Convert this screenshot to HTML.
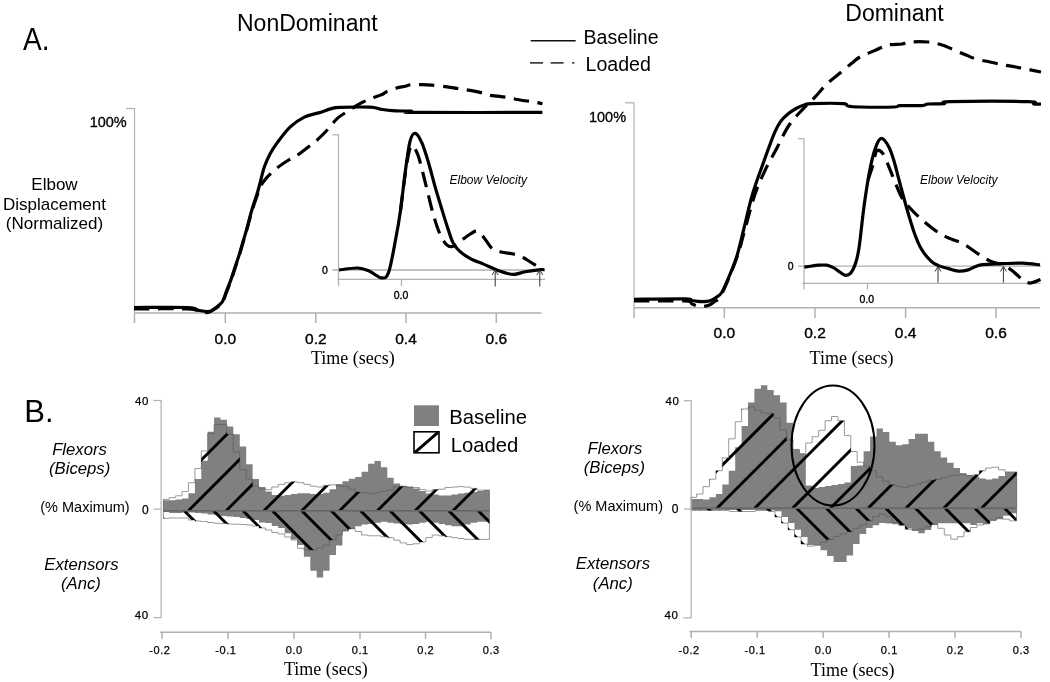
<!DOCTYPE html>
<html><head><meta charset="utf-8"><title>Figure</title>
<style>html,body{margin:0;padding:0;background:#fff;width:1050px;height:682px;overflow:hidden}svg{display:block;will-change:transform}</style>
</head><body>
<svg width="1050" height="682" viewBox="0 0 1050 682"><text x="23" y="50.1" font-size="32" text-anchor="start" font-weight="normal" font-style="normal" font-family='"Liberation Sans", sans-serif' fill="#000" textLength="26.5" lengthAdjust="spacingAndGlyphs">A.</text>
<text x="237" y="30.8" font-size="23" text-anchor="start" font-weight="normal" font-style="normal" font-family='"Liberation Sans", sans-serif' fill="#000" >NonDominant</text>
<text x="845.3" y="21" font-size="23" text-anchor="start" font-weight="normal" font-style="normal" font-family='"Liberation Sans", sans-serif' fill="#000" >Dominant</text>
<line x1="530.7" y1="40.7" x2="575.7" y2="40.7" stroke="#111" stroke-width="1.4" />
<text x="583.5" y="44.4" font-size="19.6" text-anchor="start" font-weight="normal" font-style="normal" font-family='"Liberation Sans", sans-serif' fill="#000" >Baseline</text>
<line x1="530" y1="62.9" x2="543" y2="62.9" stroke="#111" stroke-width="1.4" />
<line x1="550.7" y1="62.9" x2="563.6" y2="62.9" stroke="#111" stroke-width="1.4" />
<line x1="572.1" y1="62.9" x2="574.4" y2="62.9" stroke="#111" stroke-width="1.4" />
<text x="585.5" y="70.8" font-size="19.6" text-anchor="start" font-weight="normal" font-style="normal" font-family='"Liberation Sans", sans-serif' fill="#000" >Loaded</text>
<line x1="134.5" y1="108" x2="134.5" y2="313" stroke="#b0b0b0" stroke-width="1.2" />
<line x1="126" y1="108.5" x2="134.5" y2="108.5" stroke="#b0b0b0" stroke-width="1.2" />
<text x="126.7" y="126.7" font-size="15.3" text-anchor="end" font-weight="normal" font-style="normal" font-family='"Liberation Sans", sans-serif' fill="#000" stroke="#000" stroke-width="0.35" textLength="37" lengthAdjust="spacingAndGlyphs">100%</text>
<text x="54.5" y="190" font-size="17" text-anchor="middle" font-weight="normal" font-style="normal" font-family='"Liberation Sans", sans-serif' fill="#000" >Elbow</text>
<text x="54.5" y="209.5" font-size="17" text-anchor="middle" font-weight="normal" font-style="normal" font-family='"Liberation Sans", sans-serif' fill="#000" >Displacement</text>
<text x="54.5" y="228.5" font-size="17" text-anchor="middle" font-weight="normal" font-style="normal" font-family='"Liberation Sans", sans-serif' fill="#000" >(Normalized)</text>
<line x1="134" y1="313" x2="541.5" y2="313" stroke="#b0b0b0" stroke-width="1.5" />
<line x1="134.5" y1="313" x2="134.5" y2="323" stroke="#b0b0b0" stroke-width="1.5" />
<line x1="225.3" y1="313" x2="225.3" y2="323" stroke="#b0b0b0" stroke-width="1.5" />
<line x1="315.8" y1="313" x2="315.8" y2="323" stroke="#b0b0b0" stroke-width="1.5" />
<line x1="406" y1="313" x2="406" y2="323" stroke="#b0b0b0" stroke-width="1.5" />
<line x1="496.3" y1="313" x2="496.3" y2="323" stroke="#b0b0b0" stroke-width="1.5" />
<text x="225.3" y="343.8" font-size="15.5" text-anchor="middle" font-weight="normal" font-style="normal" font-family='"Liberation Sans", sans-serif' fill="#000" stroke="#000" stroke-width="0.4">0.0</text>
<text x="315.8" y="343.8" font-size="15.5" text-anchor="middle" font-weight="normal" font-style="normal" font-family='"Liberation Sans", sans-serif' fill="#000" stroke="#000" stroke-width="0.4">0.2</text>
<text x="406" y="343.8" font-size="15.5" text-anchor="middle" font-weight="normal" font-style="normal" font-family='"Liberation Sans", sans-serif' fill="#000" stroke="#000" stroke-width="0.4">0.4</text>
<text x="496.3" y="343.8" font-size="15.5" text-anchor="middle" font-weight="normal" font-style="normal" font-family='"Liberation Sans", sans-serif' fill="#000" stroke="#000" stroke-width="0.4">0.6</text>
<text x="311" y="363.5" font-size="18" text-anchor="start" font-weight="normal" font-style="normal" font-family='"Liberation Serif", serif' fill="#000" >Time (secs)</text>
<line x1="338.5" y1="134.5" x2="338.5" y2="279" stroke="#b0b0b0" stroke-width="1.2" />
<line x1="332.5" y1="134.8" x2="338.5" y2="134.8" stroke="#b0b0b0" stroke-width="1.2" />
<line x1="332.5" y1="270" x2="545" y2="270" stroke="#b0b0b0" stroke-width="1.3" />
<line x1="337.5" y1="279.4" x2="545" y2="279.4" stroke="#b0b0b0" stroke-width="1.3" />
<line x1="338.5" y1="279.4" x2="338.5" y2="286" stroke="#b0b0b0" stroke-width="1.2" />
<line x1="401.5" y1="279.4" x2="401.5" y2="286" stroke="#b0b0b0" stroke-width="1.2" />
<text x="325" y="274" font-size="10.5" text-anchor="middle" font-weight="normal" font-style="normal" font-family='"Liberation Sans", sans-serif' fill="#000" stroke="#000" stroke-width="0.35">0</text>
<text x="401" y="298.7" font-size="10.5" text-anchor="middle" font-weight="normal" font-style="normal" font-family='"Liberation Sans", sans-serif' fill="#000" stroke="#000" stroke-width="0.35">0.0</text>
<text x="449.5" y="184.3" font-size="12" text-anchor="start" font-weight="normal" font-style="italic" font-family='"Liberation Sans", sans-serif' fill="#000" >Elbow Velocity</text>
<path d="M134.00,307.50 C143.00,307.50 177.25,307.02 188.00,307.50 C198.75,307.98 195.05,309.72 198.50,310.40 C201.95,311.08 205.97,311.95 208.70,311.60 C211.43,311.25 212.67,309.87 214.90,308.30 C217.13,306.73 220.22,304.93 222.10,302.20 C223.98,299.47 224.67,295.83 226.20,291.90 C227.73,287.97 229.77,282.88 231.30,278.60 C232.83,274.32 234.03,270.32 235.40,266.20 C236.77,262.08 238.12,258.35 239.50,253.90 C240.88,249.45 242.32,244.28 243.70,239.50 C245.08,234.72 246.43,230.15 247.80,225.20 C249.17,220.25 250.37,215.00 251.90,209.80 C253.43,204.60 255.63,198.47 257.00,194.00 C258.37,189.53 258.88,187.48 260.10,183.00 C261.32,178.52 262.65,171.93 264.30,167.10 C265.95,162.27 267.87,158.03 270.00,154.00 C272.13,149.97 273.77,147.38 277.10,142.90 C280.43,138.42 285.47,131.40 290.00,127.10 C294.53,122.80 299.53,119.47 304.30,117.10 C309.07,114.73 314.08,114.32 318.60,112.90 C323.12,111.48 327.83,109.52 331.40,108.60 C334.97,107.68 333.57,107.63 340.00,107.40 C346.43,107.17 363.28,106.92 370.00,107.20 C376.72,107.48 376.58,108.52 380.30,109.10 C384.02,109.68 387.15,110.35 392.30,110.70 C397.45,111.05 407.48,110.92 411.20,111.20 C414.92,111.48 392.73,112.20 414.60,112.40 C436.47,112.60 521.10,112.40 542.40,112.40" fill="none" stroke="#000" stroke-width="3.2" stroke-linejoin="round" stroke-linecap="butt" />
<path d="M134.00,309.00 C143.00,309.00 176.83,308.42 188.00,309.00 C199.17,309.58 197.67,311.92 201.00,312.50 C204.33,313.08 205.68,313.08 208.00,312.50 C210.32,311.92 212.55,310.58 214.90,309.00 C217.25,307.42 220.22,305.67 222.10,303.00 C223.98,300.33 224.67,296.92 226.20,293.00 C227.73,289.08 229.77,283.83 231.30,279.50 C232.83,275.17 234.03,271.17 235.40,267.00 C236.77,262.83 238.12,259.00 239.50,254.50 C240.88,250.00 242.32,244.75 243.70,240.00 C245.08,235.25 246.43,230.83 247.80,226.00 C249.17,221.17 250.37,216.00 251.90,211.00 C253.43,206.00 255.63,200.00 257.00,196.00 C258.37,192.00 258.93,189.50 260.10,187.00 C261.27,184.50 262.58,182.88 264.00,181.00 C265.42,179.12 266.42,177.88 268.60,175.70 C270.78,173.52 273.77,170.52 277.10,167.90 C280.43,165.28 285.02,162.27 288.60,160.00 C292.18,157.73 295.03,156.68 298.60,154.30 C302.17,151.92 306.67,148.32 310.00,145.70 C313.33,143.08 315.50,141.45 318.60,138.60 C321.70,135.75 325.52,131.93 328.60,128.60 C331.68,125.27 333.77,121.58 337.10,118.60 C340.43,115.62 345.02,113.08 348.60,110.70 C352.18,108.32 355.03,106.25 358.60,104.30 C362.17,102.35 366.25,100.57 370.00,99.00 C373.75,97.43 378.23,96.17 381.10,94.90 C383.97,93.63 384.62,92.55 387.20,91.40 C389.78,90.25 393.60,88.85 396.60,88.00 C399.60,87.15 402.77,86.87 405.20,86.30 C407.63,85.73 408.48,84.88 411.20,84.60 C413.92,84.32 418.08,84.52 421.50,84.60 C424.92,84.68 427.42,84.73 431.70,85.10 C435.98,85.47 442.90,86.23 447.20,86.80 C451.50,87.37 454.37,88.02 457.50,88.50 C460.63,88.98 463.43,89.30 466.00,89.70 C468.57,90.10 470.03,90.32 472.90,90.90 C475.77,91.48 480.33,92.45 483.20,93.20 C486.07,93.95 487.67,94.90 490.10,95.40 C492.53,95.90 494.95,95.87 497.80,96.20 C500.65,96.53 504.20,96.90 507.20,97.40 C510.20,97.90 513.22,98.68 515.80,99.20 C518.38,99.72 519.83,100.08 522.70,100.50 C525.57,100.92 529.72,101.15 533.00,101.70 C536.28,102.25 540.83,103.45 542.40,103.80" fill="none" stroke="#000" stroke-width="3.2" stroke-linejoin="round" stroke-linecap="butt" stroke-dasharray="15.5,8.5" />
<path d="M339.00,270.00 C342.10,269.67 352.52,267.80 357.60,268.00 C362.68,268.20 365.53,269.55 369.50,271.20 C373.47,272.85 378.22,277.70 381.40,277.90 C384.58,278.10 386.22,278.88 388.60,272.40 C390.98,265.92 393.72,249.32 395.70,239.00 C397.68,228.68 398.92,221.60 400.50,210.50 C402.08,199.40 403.62,183.92 405.20,172.40 C406.78,160.88 408.30,147.92 410.00,141.40 C411.70,134.88 413.40,133.00 415.40,133.30 C417.40,133.60 419.80,138.25 422.00,143.20 C424.20,148.15 426.40,155.68 428.60,163.00 C430.80,170.32 433.00,179.42 435.20,187.10 C437.40,194.78 439.78,202.50 441.80,209.10 C443.82,215.70 445.48,221.20 447.30,226.70 C449.12,232.20 450.70,238.07 452.70,242.10 C454.70,246.13 456.37,248.15 459.30,250.90 C462.23,253.65 466.27,256.40 470.30,258.60 C474.33,260.80 479.47,262.38 483.50,264.10 C487.53,265.82 490.83,267.43 494.50,268.90 C498.17,270.37 502.20,271.98 505.50,272.90 C508.80,273.82 511.00,274.58 514.30,274.40 C517.60,274.22 520.90,272.60 525.30,271.80 C529.70,271.00 537.50,269.93 540.70,269.60 C543.90,269.27 543.87,269.77 544.50,269.80" fill="none" stroke="#000" stroke-width="3.2" stroke-linejoin="round" stroke-linecap="butt" />
<path d="M400.50,210.50 C401.33,204.08 404.08,181.75 405.50,172.00 C406.92,162.25 407.90,156.43 409.00,152.00 C410.10,147.57 410.67,145.03 412.10,145.40 C413.53,145.77 415.95,150.17 417.60,154.20 C419.25,158.23 420.35,163.38 422.00,169.60 C423.65,175.82 425.67,184.18 427.50,191.50 C429.33,198.82 430.98,206.53 433.00,213.50 C435.02,220.47 437.40,228.17 439.60,233.30 C441.80,238.43 444.02,242.10 446.20,244.30 C448.38,246.50 450.52,246.87 452.70,246.50 C454.88,246.13 456.73,243.93 459.30,242.10 C461.87,240.27 465.35,237.33 468.10,235.50 C470.85,233.67 473.78,231.47 475.80,231.10 C477.82,230.73 478.55,231.83 480.20,233.30 C481.85,234.77 483.68,237.33 485.70,239.90 C487.72,242.47 489.73,246.68 492.30,248.70 C494.87,250.72 497.43,251.08 501.10,252.00 C504.77,252.92 510.63,253.28 514.30,254.20 C517.97,255.12 520.17,256.03 523.10,257.50 C526.03,258.97 528.60,260.98 531.90,263.00 C535.20,265.02 541.07,268.50 542.90,269.60" fill="none" stroke="#000" stroke-width="3.2" stroke-linejoin="round" stroke-linecap="butt" stroke-dasharray="15.5,8.5" />
<line x1="495.2" y1="271" x2="495.2" y2="286.5" stroke="#333" stroke-width="1" />
<polyline points="492.2,275 495.2,270 498.2,275" fill="none" stroke="#333" stroke-width="1"/>
<line x1="539.8" y1="271" x2="539.8" y2="286.5" stroke="#333" stroke-width="1" />
<polyline points="536.8,275 539.8,270 542.8,275" fill="none" stroke="#333" stroke-width="1"/>
<line x1="634" y1="102.5" x2="634" y2="308" stroke="#b0b0b0" stroke-width="1.2" />
<line x1="625" y1="102.8" x2="634" y2="102.8" stroke="#b0b0b0" stroke-width="1.2" />
<text x="626" y="121.7" font-size="15.3" text-anchor="end" font-weight="normal" font-style="normal" font-family='"Liberation Sans", sans-serif' fill="#000" stroke="#000" stroke-width="0.35" textLength="37" lengthAdjust="spacingAndGlyphs">100%</text>
<line x1="634" y1="307.7" x2="1040" y2="307.7" stroke="#b0b0b0" stroke-width="1.5" />
<line x1="634" y1="307.7" x2="634" y2="318" stroke="#b0b0b0" stroke-width="1.5" />
<line x1="724.3" y1="307.7" x2="724.3" y2="318" stroke="#b0b0b0" stroke-width="1.5" />
<line x1="815" y1="307.7" x2="815" y2="318" stroke="#b0b0b0" stroke-width="1.5" />
<line x1="905.6" y1="307.7" x2="905.6" y2="318" stroke="#b0b0b0" stroke-width="1.5" />
<line x1="996" y1="307.7" x2="996" y2="318" stroke="#b0b0b0" stroke-width="1.5" />
<text x="724.3" y="337.7" font-size="15.5" text-anchor="middle" font-weight="normal" font-style="normal" font-family='"Liberation Sans", sans-serif' fill="#000" stroke="#000" stroke-width="0.4">0.0</text>
<text x="815" y="337.7" font-size="15.5" text-anchor="middle" font-weight="normal" font-style="normal" font-family='"Liberation Sans", sans-serif' fill="#000" stroke="#000" stroke-width="0.4">0.2</text>
<text x="905.6" y="337.7" font-size="15.5" text-anchor="middle" font-weight="normal" font-style="normal" font-family='"Liberation Sans", sans-serif' fill="#000" stroke="#000" stroke-width="0.4">0.4</text>
<text x="996" y="337.7" font-size="15.5" text-anchor="middle" font-weight="normal" font-style="normal" font-family='"Liberation Sans", sans-serif' fill="#000" stroke="#000" stroke-width="0.4">0.6</text>
<text x="809.6" y="363.7" font-size="18" text-anchor="start" font-weight="normal" font-style="normal" font-family='"Liberation Serif", serif' fill="#000" >Time (secs)</text>
<line x1="804" y1="138.5" x2="804" y2="283.2" stroke="#b0b0b0" stroke-width="1.2" />
<line x1="798" y1="138.7" x2="804" y2="138.7" stroke="#b0b0b0" stroke-width="1.2" />
<line x1="798" y1="266.2" x2="1041" y2="266.2" stroke="#b0b0b0" stroke-width="1.3" />
<line x1="802.4" y1="283.4" x2="1040.5" y2="283.4" stroke="#b0b0b0" stroke-width="1.3" />
<line x1="804.1" y1="283.2" x2="804.1" y2="289.5" stroke="#b0b0b0" stroke-width="1.2" />
<line x1="867.5" y1="283.2" x2="867.5" y2="289.5" stroke="#b0b0b0" stroke-width="1.2" />
<text x="790.6" y="269.7" font-size="10.5" text-anchor="middle" font-weight="normal" font-style="normal" font-family='"Liberation Sans", sans-serif' fill="#000" stroke="#000" stroke-width="0.35">0</text>
<text x="866.7" y="303" font-size="10.5" text-anchor="middle" font-weight="normal" font-style="normal" font-family='"Liberation Sans", sans-serif' fill="#000" stroke="#000" stroke-width="0.35">0.0</text>
<text x="920" y="184.3" font-size="12" text-anchor="start" font-weight="normal" font-style="italic" font-family='"Liberation Sans", sans-serif' fill="#000" >Elbow Velocity</text>
<path d="M634.00,299.30 C642.52,299.23 675.62,298.73 685.10,298.90 C694.58,299.07 688.80,299.88 690.90,300.30 C693.00,300.72 695.03,301.22 697.70,301.40 C700.37,301.58 704.62,301.58 706.90,301.40 C709.18,301.22 709.88,300.95 711.40,300.30 C712.92,299.65 714.28,298.80 716.00,297.50 C717.72,296.20 719.70,295.58 721.70,292.50 C723.70,289.42 725.50,284.97 728.00,279.00 C730.50,273.03 734.08,264.97 736.70,256.70 C739.32,248.43 741.08,239.77 743.70,229.40 C746.32,219.03 749.08,205.72 752.40,194.50 C755.72,183.28 759.87,172.48 763.60,162.10 C767.33,151.72 771.90,139.05 774.80,132.20 C777.70,125.35 778.72,124.10 781.00,121.00 C783.28,117.90 786.00,115.68 788.50,113.60 C791.00,111.52 793.30,109.97 796.00,108.50 C798.70,107.03 802.00,105.62 804.70,104.80 C807.40,103.98 805.77,103.80 812.20,103.60 C818.63,103.40 837.33,103.20 843.30,103.60 C849.27,104.00 845.22,105.43 848.00,106.00 C850.78,106.57 852.33,106.83 860.00,107.00 C867.67,107.17 887.33,107.23 894.00,107.00 C900.67,106.77 895.33,105.83 900.00,105.60 C904.67,105.37 917.33,105.87 922.00,105.60 C926.67,105.33 924.33,104.33 928.00,104.00 C931.67,103.67 940.33,104.00 944.00,103.60 C947.67,103.20 936.00,101.93 950.00,101.60 C964.00,101.27 1014.00,101.20 1028.00,101.60 C1042.00,102.00 1031.83,103.60 1034.00,104.00 C1036.17,104.40 1039.83,104.00 1041.00,104.00" fill="none" stroke="#000" stroke-width="3.2" stroke-linejoin="round" stroke-linecap="butt" />
<path d="M634.00,301.00 C642.50,301.00 675.33,300.50 685.00,301.00 C694.67,301.50 689.50,303.07 692.00,304.00 C694.50,304.93 697.33,306.35 700.00,306.60 C702.67,306.85 705.67,306.27 708.00,305.50 C710.33,304.73 711.72,303.92 714.00,302.00 C716.28,300.08 717.92,301.33 721.70,294.00 C725.48,286.67 732.83,268.77 736.70,258.00 C740.57,247.23 741.87,239.98 744.90,229.40 C747.93,218.82 751.58,204.25 754.90,194.50 C758.22,184.75 761.07,178.78 764.80,170.90 C768.53,163.02 773.35,154.68 777.30,147.20 C781.25,139.72 784.35,132.23 788.50,126.00 C792.65,119.77 797.83,114.57 802.20,109.80 C806.57,105.03 810.55,101.75 814.70,97.40 C818.85,93.05 822.88,87.77 827.10,83.70 C831.32,79.63 835.85,76.45 840.00,73.00 C844.15,69.55 848.67,65.67 852.00,63.00 C855.33,60.33 856.00,59.17 860.00,57.00 C864.00,54.83 871.33,52.00 876.00,50.00 C880.67,48.00 883.67,46.00 888.00,45.00 C892.33,44.00 898.33,44.50 902.00,44.00 C905.67,43.50 905.67,42.33 910.00,42.00 C914.33,41.67 922.67,41.50 928.00,42.00 C933.33,42.50 938.00,43.83 942.00,45.00 C946.00,46.17 948.00,47.33 952.00,49.00 C956.00,50.67 962.00,53.33 966.00,55.00 C970.00,56.67 972.00,57.83 976.00,59.00 C980.00,60.17 985.33,61.00 990.00,62.00 C994.67,63.00 999.67,64.17 1004.00,65.00 C1008.33,65.83 1012.33,66.33 1016.00,67.00 C1019.67,67.67 1021.83,68.17 1026.00,69.00 C1030.17,69.83 1038.50,71.50 1041.00,72.00" fill="none" stroke="#000" stroke-width="3.2" stroke-linejoin="round" stroke-linecap="butt" stroke-dasharray="15.5,8.5" />
<path d="M804.30,267.10 C805.58,266.92 809.70,266.32 812.00,266.00 C814.30,265.68 815.65,265.33 818.10,265.20 C820.55,265.07 824.17,264.80 826.70,265.20 C829.23,265.60 831.25,266.55 833.30,267.60 C835.35,268.65 837.08,270.23 839.00,271.50 C840.92,272.77 842.88,274.90 844.80,275.20 C846.72,275.50 848.77,275.12 850.50,273.30 C852.23,271.48 853.78,268.52 855.20,264.30 C856.62,260.08 857.48,258.00 859.00,248.00 C860.52,238.00 862.40,217.78 864.30,204.30 C866.20,190.82 868.35,177.00 870.40,167.10 C872.45,157.20 874.65,149.67 876.60,144.90 C878.55,140.13 880.03,138.10 882.10,138.50 C884.17,138.90 887.02,143.55 889.00,147.30 C890.98,151.05 892.35,155.63 894.00,161.00 C895.65,166.37 896.85,171.88 898.90,179.50 C900.95,187.12 903.82,198.03 906.30,206.70 C908.78,215.37 911.32,224.48 913.80,231.50 C916.28,238.52 918.32,243.85 921.20,248.80 C924.08,253.75 928.22,258.40 931.10,261.20 C933.98,264.00 935.62,264.37 938.50,265.60 C941.38,266.83 945.10,267.68 948.40,268.60 C951.70,269.52 955.00,270.88 958.30,271.10 C961.60,271.32 964.48,270.93 968.20,269.90 C971.92,268.87 974.82,265.93 980.60,264.90 C986.38,263.87 995.88,263.98 1002.90,263.70 C1009.92,263.42 1016.52,263.00 1022.70,263.20 C1028.88,263.40 1037.12,264.62 1040.00,264.90" fill="none" stroke="#000" stroke-width="3.2" stroke-linejoin="round" stroke-linecap="butt" />
<path d="M868.00,180.00 C868.82,177.50 871.47,169.83 872.90,165.00 C874.33,160.17 874.95,152.92 876.60,151.00 C878.25,149.08 880.73,150.82 882.80,153.50 C884.87,156.18 887.13,162.77 889.00,167.10 C890.87,171.43 891.93,174.55 894.00,179.50 C896.07,184.45 898.93,192.27 901.40,196.80 C903.87,201.33 905.50,202.98 908.80,206.70 C912.10,210.42 916.25,214.77 921.20,219.10 C926.15,223.43 933.55,229.40 938.50,232.70 C943.45,236.00 946.77,237.03 950.90,238.90 C955.03,240.77 958.77,241.42 963.30,243.90 C967.83,246.38 973.57,250.92 978.10,253.80 C982.63,256.68 986.37,259.35 990.50,261.20 C994.63,263.05 999.32,263.35 1002.90,264.90 C1006.48,266.45 1009.48,268.68 1012.00,270.50 C1014.52,272.32 1016.00,274.05 1018.00,275.80 C1020.00,277.55 1021.83,279.80 1024.00,281.00 C1026.17,282.20 1028.25,283.25 1031.00,283.00 C1033.75,282.75 1038.92,280.08 1040.50,279.50" fill="none" stroke="#000" stroke-width="3.2" stroke-linejoin="round" stroke-linecap="butt" stroke-dasharray="15.5,8.5" />
<line x1="938" y1="267" x2="938" y2="282.5" stroke="#333" stroke-width="1" />
<polyline points="935,271.5 938,266.5 941,271.5" fill="none" stroke="#333" stroke-width="1"/>
<line x1="1003.4" y1="267" x2="1003.4" y2="282.5" stroke="#333" stroke-width="1" />
<polyline points="1000.4,271.5 1003.4,266.5 1006.4,271.5" fill="none" stroke="#333" stroke-width="1"/>
<text x="24.3" y="422.3" font-size="31" text-anchor="start" font-weight="normal" font-style="normal" font-family='"Liberation Sans", sans-serif' fill="#000" >B.</text>
<rect x="414" y="405.3" width="25" height="20.7" fill="#808080"/>
<rect x="414" y="431.8" width="25" height="21" fill="#fff" stroke="#000" stroke-width="1.6"/>
<line x1="415" y1="452.3" x2="438" y2="432.3" stroke="#000" stroke-width="3" />
<text x="449.3" y="423.6" font-size="20.3" text-anchor="start" font-weight="normal" font-style="normal" font-family='"Liberation Sans", sans-serif' fill="#000" >Baseline</text>
<text x="450.7" y="451.6" font-size="20.3" text-anchor="start" font-weight="normal" font-style="normal" font-family='"Liberation Sans", sans-serif' fill="#000" >Loaded</text>
<clipPath id="Llf"><path d="M163.4,510.7 L163.4,499.4 L169.2,499.4 L169.2,497.6 L175.6,497.6 L175.6,495.8 L182.0,495.8 L182.0,491.5 L188.4,491.5 L188.4,482.7 L194.9,482.7 L194.9,468.6 L201.3,468.6 L201.3,451.0 L207.7,451.0 L207.7,433.4 L214.1,433.4 L214.1,424.6 L220.5,424.6 L220.5,424.6 L226.9,424.6 L226.9,434.3 L233.3,434.3 L233.3,451.9 L239.8,451.9 L239.8,469.5 L246.2,469.5 L246.2,479.1 L252.6,479.1 L252.6,486.2 L259.0,486.2 L259.0,488.8 L265.4,488.8 L265.4,489.7 L271.8,489.7 L271.8,487.0 L278.2,487.0 L278.2,484.4 L284.7,484.4 L284.7,482.7 L291.1,482.7 L291.1,481.8 L297.5,481.8 L297.5,482.7 L303.9,482.7 L303.9,484.4 L310.3,484.4 L310.3,486.2 L316.7,486.2 L316.7,487.0 L323.2,487.0 L323.2,485.4 L329.6,485.4 L329.6,484.8 L336.0,484.8 L336.0,486.0 L342.4,486.0 L342.4,486.6 L348.8,486.6 L348.8,489.2 L355.2,489.2 L355.2,491.9 L361.6,491.9 L361.6,492.8 L368.1,492.8 L368.1,493.6 L374.5,493.6 L374.5,492.8 L380.9,492.8 L380.9,491.0 L387.3,491.0 L387.3,490.1 L393.7,490.1 L393.7,486.6 L400.1,486.6 L400.1,486.6 L406.6,486.6 L406.6,487.5 L413.0,487.5 L413.0,487.5 L419.4,487.5 L419.4,489.6 L425.8,489.6 L425.8,491.0 L432.2,491.0 L432.2,489.6 L438.6,489.6 L438.6,489.2 L445.0,489.2 L445.0,487.5 L451.5,487.5 L451.5,487.1 L457.9,487.1 L457.9,486.6 L464.3,486.6 L464.3,487.1 L470.7,487.1 L470.7,488.4 L477.1,488.4 L477.1,490.1 L483.5,490.1 L483.5,490.1 L489.4,490.1 L489.4,510.7 Z"/></clipPath>
<clipPath id="Lle"><path d="M163.4,510.7 L163.4,518.3 L169.2,518.3 L169.2,518.0 L175.6,518.0 L175.6,518.0 L182.0,518.0 L182.0,518.0 L188.4,518.0 L188.4,520.0 L194.9,520.0 L194.9,521.0 L201.3,521.0 L201.3,521.5 L207.7,521.5 L207.7,522.5 L214.1,522.5 L214.1,523.3 L220.5,523.3 L220.5,523.5 L226.9,523.5 L226.9,524.0 L233.3,524.0 L233.3,524.2 L239.8,524.2 L239.8,524.5 L246.2,524.5 L246.2,525.0 L252.6,525.0 L252.6,526.0 L259.0,526.0 L259.0,528.0 L265.4,528.0 L265.4,530.0 L271.8,530.0 L271.8,532.5 L278.2,532.5 L278.2,534.0 L284.7,534.0 L284.7,537.0 L291.1,537.0 L291.1,540.0 L297.5,540.0 L297.5,548.3 L303.9,548.3 L303.9,550.0 L310.3,550.0 L310.3,550.0 L316.7,550.0 L316.7,548.0 L323.2,548.0 L323.2,545.0 L329.6,545.0 L329.6,540.0 L336.0,540.0 L336.0,535.0 L342.4,535.0 L342.4,530.0 L348.8,530.0 L348.8,528.8 L355.2,528.8 L355.2,531.5 L361.6,531.5 L361.6,535.0 L368.1,535.0 L368.1,535.8 L374.5,535.8 L374.5,535.8 L380.9,535.8 L380.9,536.7 L387.3,536.7 L387.3,537.6 L393.7,537.6 L393.7,540.2 L400.1,540.2 L400.1,542.9 L406.6,542.9 L406.6,544.6 L413.0,544.6 L413.0,543.8 L419.4,543.8 L419.4,542.0 L425.8,542.0 L425.8,537.6 L432.2,537.6 L432.2,535.0 L438.6,535.0 L438.6,535.8 L445.0,535.8 L445.0,536.7 L451.5,536.7 L451.5,537.6 L457.9,537.6 L457.9,538.5 L464.3,538.5 L464.3,539.4 L470.7,539.4 L470.7,539.4 L477.1,539.4 L477.1,539.4 L483.5,539.4 L483.5,539.4 L489.4,539.4 L489.4,510.7 Z"/></clipPath>
<path d="M163.4,510.7 L163.4,499.4 L169.2,499.4 L169.2,497.6 L175.6,497.6 L175.6,495.8 L182.0,495.8 L182.0,491.5 L188.4,491.5 L188.4,482.7 L194.9,482.7 L194.9,468.6 L201.3,468.6 L201.3,451.0 L207.7,451.0 L207.7,433.4 L214.1,433.4 L214.1,424.6 L220.5,424.6 L220.5,424.6 L226.9,424.6 L226.9,434.3 L233.3,434.3 L233.3,451.9 L239.8,451.9 L239.8,469.5 L246.2,469.5 L246.2,479.1 L252.6,479.1 L252.6,486.2 L259.0,486.2 L259.0,488.8 L265.4,488.8 L265.4,489.7 L271.8,489.7 L271.8,487.0 L278.2,487.0 L278.2,484.4 L284.7,484.4 L284.7,482.7 L291.1,482.7 L291.1,481.8 L297.5,481.8 L297.5,482.7 L303.9,482.7 L303.9,484.4 L310.3,484.4 L310.3,486.2 L316.7,486.2 L316.7,487.0 L323.2,487.0 L323.2,485.4 L329.6,485.4 L329.6,484.8 L336.0,484.8 L336.0,486.0 L342.4,486.0 L342.4,486.6 L348.8,486.6 L348.8,489.2 L355.2,489.2 L355.2,491.9 L361.6,491.9 L361.6,492.8 L368.1,492.8 L368.1,493.6 L374.5,493.6 L374.5,492.8 L380.9,492.8 L380.9,491.0 L387.3,491.0 L387.3,490.1 L393.7,490.1 L393.7,486.6 L400.1,486.6 L400.1,486.6 L406.6,486.6 L406.6,487.5 L413.0,487.5 L413.0,487.5 L419.4,487.5 L419.4,489.6 L425.8,489.6 L425.8,491.0 L432.2,491.0 L432.2,489.6 L438.6,489.6 L438.6,489.2 L445.0,489.2 L445.0,487.5 L451.5,487.5 L451.5,487.1 L457.9,487.1 L457.9,486.6 L464.3,486.6 L464.3,487.1 L470.7,487.1 L470.7,488.4 L477.1,488.4 L477.1,490.1 L483.5,490.1 L483.5,490.1 L489.4,490.1 L489.4,510.7 Z" fill="#fff" stroke="#999" stroke-width="1"/>
<path d="M163.4,510.7 L163.4,518.3 L169.2,518.3 L169.2,518.0 L175.6,518.0 L175.6,518.0 L182.0,518.0 L182.0,518.0 L188.4,518.0 L188.4,520.0 L194.9,520.0 L194.9,521.0 L201.3,521.0 L201.3,521.5 L207.7,521.5 L207.7,522.5 L214.1,522.5 L214.1,523.3 L220.5,523.3 L220.5,523.5 L226.9,523.5 L226.9,524.0 L233.3,524.0 L233.3,524.2 L239.8,524.2 L239.8,524.5 L246.2,524.5 L246.2,525.0 L252.6,525.0 L252.6,526.0 L259.0,526.0 L259.0,528.0 L265.4,528.0 L265.4,530.0 L271.8,530.0 L271.8,532.5 L278.2,532.5 L278.2,534.0 L284.7,534.0 L284.7,537.0 L291.1,537.0 L291.1,540.0 L297.5,540.0 L297.5,548.3 L303.9,548.3 L303.9,550.0 L310.3,550.0 L310.3,550.0 L316.7,550.0 L316.7,548.0 L323.2,548.0 L323.2,545.0 L329.6,545.0 L329.6,540.0 L336.0,540.0 L336.0,535.0 L342.4,535.0 L342.4,530.0 L348.8,530.0 L348.8,528.8 L355.2,528.8 L355.2,531.5 L361.6,531.5 L361.6,535.0 L368.1,535.0 L368.1,535.8 L374.5,535.8 L374.5,535.8 L380.9,535.8 L380.9,536.7 L387.3,536.7 L387.3,537.6 L393.7,537.6 L393.7,540.2 L400.1,540.2 L400.1,542.9 L406.6,542.9 L406.6,544.6 L413.0,544.6 L413.0,543.8 L419.4,543.8 L419.4,542.0 L425.8,542.0 L425.8,537.6 L432.2,537.6 L432.2,535.0 L438.6,535.0 L438.6,535.8 L445.0,535.8 L445.0,536.7 L451.5,536.7 L451.5,537.6 L457.9,537.6 L457.9,538.5 L464.3,538.5 L464.3,539.4 L470.7,539.4 L470.7,539.4 L477.1,539.4 L477.1,539.4 L483.5,539.4 L483.5,539.4 L489.4,539.4 L489.4,510.7 Z" fill="#fff" stroke="#999" stroke-width="1"/>
<path d="M163.4,510.7 L163.4,500.2 L169.2,500.2 L169.2,500.2 L175.6,500.2 L175.6,499.4 L182.0,499.4 L182.0,498.5 L188.4,498.5 L188.4,493.2 L194.9,493.2 L194.9,479.1 L201.3,479.1 L201.3,460.7 L207.7,460.7 L207.7,431.7 L214.1,431.7 L214.1,417.6 L220.5,417.6 L220.5,419.7 L226.9,419.7 L226.9,426.4 L233.3,426.4 L233.3,434.3 L239.8,434.3 L239.8,446.6 L246.2,446.6 L246.2,464.2 L252.6,464.2 L252.6,479.1 L259.0,479.1 L259.0,487.1 L265.4,487.1 L265.4,491.5 L271.8,491.5 L271.8,495.0 L278.2,495.0 L278.2,495.8 L284.7,495.8 L284.7,495.0 L291.1,495.0 L291.1,494.1 L297.5,494.1 L297.5,493.2 L303.9,493.2 L303.9,493.2 L310.3,493.2 L310.3,494.1 L316.7,494.1 L316.7,494.1 L323.2,494.1 L323.2,492.8 L329.6,492.8 L329.6,489.2 L336.0,489.2 L336.0,484.0 L342.4,484.0 L342.4,481.3 L348.8,481.3 L348.8,478.7 L355.2,478.7 L355.2,476.9 L361.6,476.9 L361.6,471.7 L368.1,471.7 L368.1,463.7 L374.5,463.7 L374.5,461.1 L380.9,461.1 L380.9,467.3 L387.3,467.3 L387.3,477.8 L393.7,477.8 L393.7,483.6 L400.1,483.6 L400.1,485.7 L406.6,485.7 L406.6,486.6 L413.0,486.6 L413.0,488.4 L419.4,488.4 L419.4,491.0 L425.8,491.0 L425.8,493.6 L432.2,493.6 L432.2,494.5 L438.6,494.5 L438.6,495.4 L445.0,495.4 L445.0,495.4 L451.5,495.4 L451.5,494.5 L457.9,494.5 L457.9,493.6 L464.3,493.6 L464.3,492.8 L470.7,492.8 L470.7,491.9 L477.1,491.9 L477.1,491.0 L483.5,491.0 L483.5,490.1 L489.4,490.1 L489.4,510.7 Z" fill="#808080"/>
<path d="M163.4,510.7 L163.4,512.0 L169.2,512.0 L169.2,513.0 L175.6,513.0 L175.6,513.0 L182.0,513.0 L182.0,512.5 L188.4,512.5 L188.4,512.5 L194.9,512.5 L194.9,513.0 L201.3,513.0 L201.3,513.5 L207.7,513.5 L207.7,514.5 L214.1,514.5 L214.1,515.0 L220.5,515.0 L220.5,516.0 L226.9,516.0 L226.9,516.5 L233.3,516.5 L233.3,517.0 L239.8,517.0 L239.8,518.0 L246.2,518.0 L246.2,519.0 L252.6,519.0 L252.6,520.0 L259.0,520.0 L259.0,522.5 L265.4,522.5 L265.4,523.0 L271.8,523.0 L271.8,526.0 L278.2,526.0 L278.2,528.0 L284.7,528.0 L284.7,533.3 L291.1,533.3 L291.1,539.2 L297.5,539.2 L297.5,545.0 L303.9,545.0 L303.9,556.7 L310.3,556.7 L310.3,570.8 L316.7,570.8 L316.7,577.5 L323.2,577.5 L323.2,570.8 L329.6,570.8 L329.6,555.0 L336.0,555.0 L336.0,545.5 L342.4,545.5 L342.4,531.5 L348.8,531.5 L348.8,528.8 L355.2,528.8 L355.2,526.2 L361.6,526.2 L361.6,524.4 L368.1,524.4 L368.1,524.0 L374.5,524.0 L374.5,522.7 L380.9,522.7 L380.9,521.8 L387.3,521.8 L387.3,522.7 L393.7,522.7 L393.7,523.5 L400.1,523.5 L400.1,524.0 L406.6,524.0 L406.6,524.4 L413.0,524.4 L413.0,524.0 L419.4,524.0 L419.4,522.7 L425.8,522.7 L425.8,521.8 L432.2,521.8 L432.2,522.7 L438.6,522.7 L438.6,524.0 L445.0,524.0 L445.0,525.3 L451.5,525.3 L451.5,526.2 L457.9,526.2 L457.9,526.2 L464.3,526.2 L464.3,524.4 L470.7,524.4 L470.7,522.7 L477.1,522.7 L477.1,521.8 L483.5,521.8 L483.5,521.8 L489.4,521.8 L489.4,510.7 Z" fill="#808080"/>
<clipPath id="Lgf"><path d="M163.4,510.7 L163.4,500.2 L169.2,500.2 L169.2,500.2 L175.6,500.2 L175.6,499.4 L182.0,499.4 L182.0,498.5 L188.4,498.5 L188.4,493.2 L194.9,493.2 L194.9,479.1 L201.3,479.1 L201.3,460.7 L207.7,460.7 L207.7,431.7 L214.1,431.7 L214.1,417.6 L220.5,417.6 L220.5,419.7 L226.9,419.7 L226.9,426.4 L233.3,426.4 L233.3,434.3 L239.8,434.3 L239.8,446.6 L246.2,446.6 L246.2,464.2 L252.6,464.2 L252.6,479.1 L259.0,479.1 L259.0,487.1 L265.4,487.1 L265.4,491.5 L271.8,491.5 L271.8,495.0 L278.2,495.0 L278.2,495.8 L284.7,495.8 L284.7,495.0 L291.1,495.0 L291.1,494.1 L297.5,494.1 L297.5,493.2 L303.9,493.2 L303.9,493.2 L310.3,493.2 L310.3,494.1 L316.7,494.1 L316.7,494.1 L323.2,494.1 L323.2,492.8 L329.6,492.8 L329.6,489.2 L336.0,489.2 L336.0,484.0 L342.4,484.0 L342.4,481.3 L348.8,481.3 L348.8,478.7 L355.2,478.7 L355.2,476.9 L361.6,476.9 L361.6,471.7 L368.1,471.7 L368.1,463.7 L374.5,463.7 L374.5,461.1 L380.9,461.1 L380.9,467.3 L387.3,467.3 L387.3,477.8 L393.7,477.8 L393.7,483.6 L400.1,483.6 L400.1,485.7 L406.6,485.7 L406.6,486.6 L413.0,486.6 L413.0,488.4 L419.4,488.4 L419.4,491.0 L425.8,491.0 L425.8,493.6 L432.2,493.6 L432.2,494.5 L438.6,494.5 L438.6,495.4 L445.0,495.4 L445.0,495.4 L451.5,495.4 L451.5,494.5 L457.9,494.5 L457.9,493.6 L464.3,493.6 L464.3,492.8 L470.7,492.8 L470.7,491.9 L477.1,491.9 L477.1,491.0 L483.5,491.0 L483.5,490.1 L489.4,490.1 L489.4,510.7 Z"/></clipPath>
<clipPath id="Lge"><path d="M163.4,510.7 L163.4,512.0 L169.2,512.0 L169.2,513.0 L175.6,513.0 L175.6,513.0 L182.0,513.0 L182.0,512.5 L188.4,512.5 L188.4,512.5 L194.9,512.5 L194.9,513.0 L201.3,513.0 L201.3,513.5 L207.7,513.5 L207.7,514.5 L214.1,514.5 L214.1,515.0 L220.5,515.0 L220.5,516.0 L226.9,516.0 L226.9,516.5 L233.3,516.5 L233.3,517.0 L239.8,517.0 L239.8,518.0 L246.2,518.0 L246.2,519.0 L252.6,519.0 L252.6,520.0 L259.0,520.0 L259.0,522.5 L265.4,522.5 L265.4,523.0 L271.8,523.0 L271.8,526.0 L278.2,526.0 L278.2,528.0 L284.7,528.0 L284.7,533.3 L291.1,533.3 L291.1,539.2 L297.5,539.2 L297.5,545.0 L303.9,545.0 L303.9,556.7 L310.3,556.7 L310.3,570.8 L316.7,570.8 L316.7,577.5 L323.2,577.5 L323.2,570.8 L329.6,570.8 L329.6,555.0 L336.0,555.0 L336.0,545.5 L342.4,545.5 L342.4,531.5 L348.8,531.5 L348.8,528.8 L355.2,528.8 L355.2,526.2 L361.6,526.2 L361.6,524.4 L368.1,524.4 L368.1,524.0 L374.5,524.0 L374.5,522.7 L380.9,522.7 L380.9,521.8 L387.3,521.8 L387.3,522.7 L393.7,522.7 L393.7,523.5 L400.1,523.5 L400.1,524.0 L406.6,524.0 L406.6,524.4 L413.0,524.4 L413.0,524.0 L419.4,524.0 L419.4,522.7 L425.8,522.7 L425.8,521.8 L432.2,521.8 L432.2,522.7 L438.6,522.7 L438.6,524.0 L445.0,524.0 L445.0,525.3 L451.5,525.3 L451.5,526.2 L457.9,526.2 L457.9,526.2 L464.3,526.2 L464.3,524.4 L470.7,524.4 L470.7,522.7 L477.1,522.7 L477.1,521.8 L483.5,521.8 L483.5,521.8 L489.4,521.8 L489.4,510.7 Z"/></clipPath>
<path d="M163.4,510.7 L163.4,499.4 L169.2,499.4 L169.2,497.6 L175.6,497.6 L175.6,495.8 L182.0,495.8 L182.0,491.5 L188.4,491.5 L188.4,482.7 L194.9,482.7 L194.9,468.6 L201.3,468.6 L201.3,451.0 L207.7,451.0 L207.7,433.4 L214.1,433.4 L214.1,424.6 L220.5,424.6 L220.5,424.6 L226.9,424.6 L226.9,434.3 L233.3,434.3 L233.3,451.9 L239.8,451.9 L239.8,469.5 L246.2,469.5 L246.2,479.1 L252.6,479.1 L252.6,486.2 L259.0,486.2 L259.0,488.8 L265.4,488.8 L265.4,489.7 L271.8,489.7 L271.8,487.0 L278.2,487.0 L278.2,484.4 L284.7,484.4 L284.7,482.7 L291.1,482.7 L291.1,481.8 L297.5,481.8 L297.5,482.7 L303.9,482.7 L303.9,484.4 L310.3,484.4 L310.3,486.2 L316.7,486.2 L316.7,487.0 L323.2,487.0 L323.2,485.4 L329.6,485.4 L329.6,484.8 L336.0,484.8 L336.0,486.0 L342.4,486.0 L342.4,486.6 L348.8,486.6 L348.8,489.2 L355.2,489.2 L355.2,491.9 L361.6,491.9 L361.6,492.8 L368.1,492.8 L368.1,493.6 L374.5,493.6 L374.5,492.8 L380.9,492.8 L380.9,491.0 L387.3,491.0 L387.3,490.1 L393.7,490.1 L393.7,486.6 L400.1,486.6 L400.1,486.6 L406.6,486.6 L406.6,487.5 L413.0,487.5 L413.0,487.5 L419.4,487.5 L419.4,489.6 L425.8,489.6 L425.8,491.0 L432.2,491.0 L432.2,489.6 L438.6,489.6 L438.6,489.2 L445.0,489.2 L445.0,487.5 L451.5,487.5 L451.5,487.1 L457.9,487.1 L457.9,486.6 L464.3,486.6 L464.3,487.1 L470.7,487.1 L470.7,488.4 L477.1,488.4 L477.1,490.1 L483.5,490.1 L483.5,490.1 L489.4,490.1 L489.4,510.7 Z" fill="none" stroke="#666" stroke-width="1" clip-path="url(#Lgf)"/>
<path d="M163.4,510.7 L163.4,518.3 L169.2,518.3 L169.2,518.0 L175.6,518.0 L175.6,518.0 L182.0,518.0 L182.0,518.0 L188.4,518.0 L188.4,520.0 L194.9,520.0 L194.9,521.0 L201.3,521.0 L201.3,521.5 L207.7,521.5 L207.7,522.5 L214.1,522.5 L214.1,523.3 L220.5,523.3 L220.5,523.5 L226.9,523.5 L226.9,524.0 L233.3,524.0 L233.3,524.2 L239.8,524.2 L239.8,524.5 L246.2,524.5 L246.2,525.0 L252.6,525.0 L252.6,526.0 L259.0,526.0 L259.0,528.0 L265.4,528.0 L265.4,530.0 L271.8,530.0 L271.8,532.5 L278.2,532.5 L278.2,534.0 L284.7,534.0 L284.7,537.0 L291.1,537.0 L291.1,540.0 L297.5,540.0 L297.5,548.3 L303.9,548.3 L303.9,550.0 L310.3,550.0 L310.3,550.0 L316.7,550.0 L316.7,548.0 L323.2,548.0 L323.2,545.0 L329.6,545.0 L329.6,540.0 L336.0,540.0 L336.0,535.0 L342.4,535.0 L342.4,530.0 L348.8,530.0 L348.8,528.8 L355.2,528.8 L355.2,531.5 L361.6,531.5 L361.6,535.0 L368.1,535.0 L368.1,535.8 L374.5,535.8 L374.5,535.8 L380.9,535.8 L380.9,536.7 L387.3,536.7 L387.3,537.6 L393.7,537.6 L393.7,540.2 L400.1,540.2 L400.1,542.9 L406.6,542.9 L406.6,544.6 L413.0,544.6 L413.0,543.8 L419.4,543.8 L419.4,542.0 L425.8,542.0 L425.8,537.6 L432.2,537.6 L432.2,535.0 L438.6,535.0 L438.6,535.8 L445.0,535.8 L445.0,536.7 L451.5,536.7 L451.5,537.6 L457.9,537.6 L457.9,538.5 L464.3,538.5 L464.3,539.4 L470.7,539.4 L470.7,539.4 L477.1,539.4 L477.1,539.4 L483.5,539.4 L483.5,539.4 L489.4,539.4 L489.4,510.7 Z" fill="none" stroke="#666" stroke-width="1" clip-path="url(#Lge)"/>
<g clip-path="url(#Llf)"><line x1="-0.6" y1="510.7" x2="149.4" y2="360.7" stroke="#000" stroke-width="2.9"/><line x1="37.2" y1="510.7" x2="187.2" y2="360.7" stroke="#000" stroke-width="2.9"/><line x1="75.0" y1="510.7" x2="225.0" y2="360.7" stroke="#000" stroke-width="2.9"/><line x1="112.8" y1="510.7" x2="262.8" y2="360.7" stroke="#000" stroke-width="2.9"/><line x1="150.6" y1="510.7" x2="300.6" y2="360.7" stroke="#000" stroke-width="2.9"/><line x1="188.4" y1="510.7" x2="338.4" y2="360.7" stroke="#000" stroke-width="2.9"/><line x1="226.2" y1="510.7" x2="376.2" y2="360.7" stroke="#000" stroke-width="2.9"/><line x1="264.0" y1="510.7" x2="414.0" y2="360.7" stroke="#000" stroke-width="2.9"/><line x1="301.8" y1="510.7" x2="451.8" y2="360.7" stroke="#000" stroke-width="2.9"/><line x1="339.6" y1="510.7" x2="489.6" y2="360.7" stroke="#000" stroke-width="2.9"/><line x1="377.4" y1="510.7" x2="527.4" y2="360.7" stroke="#000" stroke-width="2.9"/><line x1="415.2" y1="510.7" x2="565.2" y2="360.7" stroke="#000" stroke-width="2.9"/><line x1="453.0" y1="510.7" x2="603.0" y2="360.7" stroke="#000" stroke-width="2.9"/></g>
<g clip-path="url(#Lle)"><line x1="7.8" y1="510.7" x2="157.8" y2="660.7" stroke="#000" stroke-width="2.9"/><line x1="37.2" y1="510.7" x2="187.2" y2="660.7" stroke="#000" stroke-width="2.9"/><line x1="66.6" y1="510.7" x2="216.6" y2="660.7" stroke="#000" stroke-width="2.9"/><line x1="96.0" y1="510.7" x2="246.0" y2="660.7" stroke="#000" stroke-width="2.9"/><line x1="125.4" y1="510.7" x2="275.4" y2="660.7" stroke="#000" stroke-width="2.9"/><line x1="154.8" y1="510.7" x2="304.8" y2="660.7" stroke="#000" stroke-width="2.9"/><line x1="184.2" y1="510.7" x2="334.2" y2="660.7" stroke="#000" stroke-width="2.9"/><line x1="213.6" y1="510.7" x2="363.6" y2="660.7" stroke="#000" stroke-width="2.9"/><line x1="243.0" y1="510.7" x2="393.0" y2="660.7" stroke="#000" stroke-width="2.9"/><line x1="272.4" y1="510.7" x2="422.4" y2="660.7" stroke="#000" stroke-width="2.9"/><line x1="301.8" y1="510.7" x2="451.8" y2="660.7" stroke="#000" stroke-width="2.9"/><line x1="331.2" y1="510.7" x2="481.2" y2="660.7" stroke="#000" stroke-width="2.9"/><line x1="360.6" y1="510.7" x2="510.6" y2="660.7" stroke="#000" stroke-width="2.9"/><line x1="390.0" y1="510.7" x2="540.0" y2="660.7" stroke="#000" stroke-width="2.9"/><line x1="419.4" y1="510.7" x2="569.4" y2="660.7" stroke="#000" stroke-width="2.9"/><line x1="448.8" y1="510.7" x2="598.8" y2="660.7" stroke="#000" stroke-width="2.9"/><line x1="478.2" y1="510.7" x2="628.2" y2="660.7" stroke="#000" stroke-width="2.9"/></g>
<line x1="163.4" y1="510.7" x2="489.4" y2="510.7" stroke="#666" stroke-width="1.4" />
<clipPath id="Rlf"><path d="M691.0,508.3 L691.0,497.3 L696.6,497.3 L696.6,494.0 L703.0,494.0 L703.0,486.6 L709.5,486.6 L709.5,479.2 L715.9,479.2 L715.9,470.7 L722.3,470.7 L722.3,457.9 L728.7,457.9 L728.7,438.8 L735.2,438.8 L735.2,421.8 L741.6,421.8 L741.6,409.0 L748.0,409.0 L748.0,406.9 L754.4,406.9 L754.4,410.0 L760.9,410.0 L760.9,413.0 L767.3,413.0 L767.3,413.5 L773.7,413.5 L773.7,418.0 L780.1,418.0 L780.1,430.0 L786.6,430.0 L786.6,440.0 L793.0,440.0 L793.0,449.4 L799.4,449.4 L799.4,453.7 L805.8,453.7 L805.8,443.0 L812.2,443.0 L812.2,436.7 L818.7,436.7 L818.7,430.3 L825.1,430.3 L825.1,420.7 L831.5,420.7 L831.5,416.5 L837.9,416.5 L837.9,420.7 L844.4,420.7 L844.4,435.6 L850.8,435.6 L850.8,451.5 L857.2,451.5 L857.2,462.2 L863.6,462.2 L863.6,466.0 L870.1,466.0 L870.1,470.7 L876.5,470.7 L876.5,476.8 L882.9,476.8 L882.9,481.2 L889.3,481.2 L889.3,484.7 L895.8,484.7 L895.8,486.5 L902.2,486.5 L902.2,487.4 L908.6,487.4 L908.6,485.6 L915.0,485.6 L915.0,483.9 L921.5,483.9 L921.5,482.1 L927.9,482.1 L927.9,480.3 L934.3,480.3 L934.3,479.5 L940.7,479.5 L940.7,477.7 L947.2,477.7 L947.2,476.0 L953.6,476.0 L953.6,475.1 L960.0,475.1 L960.0,474.2 L966.4,474.2 L966.4,476.0 L972.8,476.0 L972.8,474.7 L979.3,474.7 L979.3,470.7 L985.7,470.7 L985.7,468.0 L992.1,468.0 L992.1,467.2 L998.5,467.2 L998.5,469.8 L1005.0,469.8 L1005.0,471.9 L1011.4,471.9 L1011.4,471.9 L1016.7,471.9 L1016.7,508.3 Z"/></clipPath>
<clipPath id="Rle"><path d="M691.0,508.3 L691.0,510.5 L696.8,510.5 L696.8,510.5 L703.3,510.5 L703.3,510.5 L709.8,510.5 L709.8,510.5 L716.3,510.5 L716.3,510.5 L722.8,510.5 L722.8,510.5 L729.3,510.5 L729.3,511.5 L735.9,511.5 L735.9,511.5 L742.4,511.5 L742.4,511.5 L748.9,511.5 L748.9,511.5 L755.4,511.5 L755.4,510.5 L761.9,510.5 L761.9,510.5 L768.4,510.5 L768.4,511.3 L774.9,511.3 L774.9,517.0 L781.5,517.0 L781.5,523.1 L788.0,523.1 L788.0,529.8 L794.5,529.8 L794.5,537.0 L801.0,537.0 L801.0,544.1 L807.5,544.1 L807.5,546.2 L814.0,546.2 L814.0,545.2 L820.5,545.2 L820.5,542.1 L827.1,542.1 L827.1,539.5 L833.6,539.5 L833.6,536.4 L840.1,536.4 L840.1,533.9 L846.6,533.9 L846.6,531.8 L853.1,531.8 L853.1,528.3 L859.6,528.3 L859.6,525.0 L866.2,525.0 L866.2,520.8 L872.7,520.8 L872.7,516.7 L879.2,516.7 L879.2,514.2 L885.7,514.2 L885.7,516.7 L892.2,516.7 L892.2,522.5 L898.7,522.5 L898.7,525.0 L905.2,525.0 L905.2,529.2 L911.8,529.2 L911.8,530.0 L918.3,530.0 L918.3,529.2 L924.8,529.2 L924.8,526.7 L931.3,526.7 L931.3,524.2 L937.8,524.2 L937.8,528.3 L944.3,528.3 L944.3,535.0 L950.8,535.0 L950.8,539.2 L957.4,539.2 L957.4,536.7 L963.9,536.7 L963.9,531.7 L970.4,531.7 L970.4,527.5 L976.9,527.5 L976.9,525.0 L983.4,525.0 L983.4,523.3 L989.9,523.3 L989.9,520.0 L996.5,520.0 L996.5,517.5 L1003.0,517.5 L1003.0,519.2 L1009.5,519.2 L1009.5,520.8 L1016.5,520.8 L1016.5,508.3 Z"/></clipPath>
<path d="M691.0,508.3 L691.0,497.3 L696.6,497.3 L696.6,494.0 L703.0,494.0 L703.0,486.6 L709.5,486.6 L709.5,479.2 L715.9,479.2 L715.9,470.7 L722.3,470.7 L722.3,457.9 L728.7,457.9 L728.7,438.8 L735.2,438.8 L735.2,421.8 L741.6,421.8 L741.6,409.0 L748.0,409.0 L748.0,406.9 L754.4,406.9 L754.4,410.0 L760.9,410.0 L760.9,413.0 L767.3,413.0 L767.3,413.5 L773.7,413.5 L773.7,418.0 L780.1,418.0 L780.1,430.0 L786.6,430.0 L786.6,440.0 L793.0,440.0 L793.0,449.4 L799.4,449.4 L799.4,453.7 L805.8,453.7 L805.8,443.0 L812.2,443.0 L812.2,436.7 L818.7,436.7 L818.7,430.3 L825.1,430.3 L825.1,420.7 L831.5,420.7 L831.5,416.5 L837.9,416.5 L837.9,420.7 L844.4,420.7 L844.4,435.6 L850.8,435.6 L850.8,451.5 L857.2,451.5 L857.2,462.2 L863.6,462.2 L863.6,466.0 L870.1,466.0 L870.1,470.7 L876.5,470.7 L876.5,476.8 L882.9,476.8 L882.9,481.2 L889.3,481.2 L889.3,484.7 L895.8,484.7 L895.8,486.5 L902.2,486.5 L902.2,487.4 L908.6,487.4 L908.6,485.6 L915.0,485.6 L915.0,483.9 L921.5,483.9 L921.5,482.1 L927.9,482.1 L927.9,480.3 L934.3,480.3 L934.3,479.5 L940.7,479.5 L940.7,477.7 L947.2,477.7 L947.2,476.0 L953.6,476.0 L953.6,475.1 L960.0,475.1 L960.0,474.2 L966.4,474.2 L966.4,476.0 L972.8,476.0 L972.8,474.7 L979.3,474.7 L979.3,470.7 L985.7,470.7 L985.7,468.0 L992.1,468.0 L992.1,467.2 L998.5,467.2 L998.5,469.8 L1005.0,469.8 L1005.0,471.9 L1011.4,471.9 L1011.4,471.9 L1016.7,471.9 L1016.7,508.3 Z" fill="#fff" stroke="#999" stroke-width="1"/>
<path d="M691.0,508.3 L691.0,510.5 L696.8,510.5 L696.8,510.5 L703.3,510.5 L703.3,510.5 L709.8,510.5 L709.8,510.5 L716.3,510.5 L716.3,510.5 L722.8,510.5 L722.8,510.5 L729.3,510.5 L729.3,511.5 L735.9,511.5 L735.9,511.5 L742.4,511.5 L742.4,511.5 L748.9,511.5 L748.9,511.5 L755.4,511.5 L755.4,510.5 L761.9,510.5 L761.9,510.5 L768.4,510.5 L768.4,511.3 L774.9,511.3 L774.9,517.0 L781.5,517.0 L781.5,523.1 L788.0,523.1 L788.0,529.8 L794.5,529.8 L794.5,537.0 L801.0,537.0 L801.0,544.1 L807.5,544.1 L807.5,546.2 L814.0,546.2 L814.0,545.2 L820.5,545.2 L820.5,542.1 L827.1,542.1 L827.1,539.5 L833.6,539.5 L833.6,536.4 L840.1,536.4 L840.1,533.9 L846.6,533.9 L846.6,531.8 L853.1,531.8 L853.1,528.3 L859.6,528.3 L859.6,525.0 L866.2,525.0 L866.2,520.8 L872.7,520.8 L872.7,516.7 L879.2,516.7 L879.2,514.2 L885.7,514.2 L885.7,516.7 L892.2,516.7 L892.2,522.5 L898.7,522.5 L898.7,525.0 L905.2,525.0 L905.2,529.2 L911.8,529.2 L911.8,530.0 L918.3,530.0 L918.3,529.2 L924.8,529.2 L924.8,526.7 L931.3,526.7 L931.3,524.2 L937.8,524.2 L937.8,528.3 L944.3,528.3 L944.3,535.0 L950.8,535.0 L950.8,539.2 L957.4,539.2 L957.4,536.7 L963.9,536.7 L963.9,531.7 L970.4,531.7 L970.4,527.5 L976.9,527.5 L976.9,525.0 L983.4,525.0 L983.4,523.3 L989.9,523.3 L989.9,520.0 L996.5,520.0 L996.5,517.5 L1003.0,517.5 L1003.0,519.2 L1009.5,519.2 L1009.5,520.8 L1016.5,520.8 L1016.5,508.3 Z" fill="#fff" stroke="#999" stroke-width="1"/>
<path d="M691.0,508.3 L691.0,499.0 L696.6,499.0 L696.6,499.0 L703.0,499.0 L703.0,499.5 L709.5,499.5 L709.5,497.3 L715.9,497.3 L715.9,494.0 L722.3,494.0 L722.3,484.5 L728.7,484.5 L728.7,470.7 L735.2,470.7 L735.2,447.3 L741.6,447.3 L741.6,426.0 L748.0,426.0 L748.0,402.6 L754.4,402.6 L754.4,388.8 L760.9,388.8 L760.9,385.2 L767.3,385.2 L767.3,389.9 L773.7,389.9 L773.7,395.2 L780.1,395.2 L780.1,402.6 L786.6,402.6 L786.6,422.8 L793.0,422.8 L793.0,449.4 L799.4,449.4 L799.4,453.7 L805.8,453.7 L805.8,485.6 L812.2,485.6 L812.2,488.0 L818.7,488.0 L818.7,487.0 L825.1,487.0 L825.1,486.0 L831.5,486.0 L831.5,485.0 L837.9,485.0 L837.9,484.0 L844.4,484.0 L844.4,482.4 L850.8,482.4 L850.8,466.0 L857.2,466.0 L857.2,465.4 L863.6,465.4 L863.6,451.3 L870.1,451.3 L870.1,436.4 L876.5,436.4 L876.5,428.5 L882.9,428.5 L882.9,432.0 L889.3,432.0 L889.3,441.7 L895.8,441.7 L895.8,445.2 L902.2,445.2 L902.2,444.3 L908.6,444.3 L908.6,439.0 L915.0,439.0 L915.0,433.7 L921.5,433.7 L921.5,433.7 L927.9,433.7 L927.9,441.7 L934.3,441.7 L934.3,451.3 L940.7,451.3 L940.7,457.5 L947.2,457.5 L947.2,462.8 L953.6,462.8 L953.6,468.0 L960.0,468.0 L960.0,473.3 L966.4,473.3 L966.4,475.1 L972.8,475.1 L972.8,476.8 L979.3,476.8 L979.3,478.6 L985.7,478.6 L985.7,479.5 L992.1,479.5 L992.1,478.6 L998.5,478.6 L998.5,476.0 L1005.0,476.0 L1005.0,471.9 L1011.4,471.9 L1011.4,471.9 L1016.7,471.9 L1016.7,508.3 Z" fill="#808080"/>
<path d="M691.0,508.3 L691.0,510.0 L696.8,510.0 L696.8,510.0 L703.3,510.0 L703.3,510.0 L709.8,510.0 L709.8,510.0 L716.3,510.0 L716.3,510.0 L722.8,510.0 L722.8,510.0 L729.3,510.0 L729.3,510.0 L735.9,510.0 L735.9,510.0 L742.4,510.0 L742.4,510.0 L748.9,510.0 L748.9,510.0 L755.4,510.0 L755.4,510.0 L761.9,510.0 L761.9,510.0 L768.4,510.0 L768.4,510.3 L774.9,510.3 L774.9,511.3 L781.5,511.3 L781.5,517.0 L788.0,517.0 L788.0,523.1 L794.5,523.1 L794.5,529.8 L801.0,529.8 L801.0,537.0 L807.5,537.0 L807.5,545.0 L814.0,545.0 L814.0,545.2 L820.5,545.2 L820.5,550.3 L827.1,550.3 L827.1,556.0 L833.6,556.0 L833.6,562.1 L840.1,562.1 L840.1,562.1 L846.6,562.1 L846.6,555.5 L853.1,555.5 L853.1,544.0 L859.6,544.0 L859.6,534.0 L866.2,534.0 L866.2,528.1 L872.7,528.1 L872.7,525.2 L879.2,525.2 L879.2,523.0 L885.7,523.0 L885.7,523.5 L892.2,523.5 L892.2,524.2 L898.7,524.2 L898.7,525.8 L905.2,525.8 L905.2,528.3 L911.8,528.3 L911.8,530.8 L918.3,530.8 L918.3,533.3 L924.8,533.3 L924.8,530.0 L931.3,530.0 L931.3,525.0 L937.8,525.0 L937.8,523.3 L944.3,523.3 L944.3,523.3 L950.8,523.3 L950.8,523.3 L957.4,523.3 L957.4,523.3 L963.9,523.3 L963.9,523.3 L970.4,523.3 L970.4,525.0 L976.9,525.0 L976.9,523.3 L983.4,523.3 L983.4,524.2 L989.9,524.2 L989.9,520.8 L996.5,520.8 L996.5,519.2 L1003.0,519.2 L1003.0,515.8 L1009.5,515.8 L1009.5,513.3 L1016.5,513.3 L1016.5,508.3 Z" fill="#808080"/>
<clipPath id="Rgf"><path d="M691.0,508.3 L691.0,499.0 L696.6,499.0 L696.6,499.0 L703.0,499.0 L703.0,499.5 L709.5,499.5 L709.5,497.3 L715.9,497.3 L715.9,494.0 L722.3,494.0 L722.3,484.5 L728.7,484.5 L728.7,470.7 L735.2,470.7 L735.2,447.3 L741.6,447.3 L741.6,426.0 L748.0,426.0 L748.0,402.6 L754.4,402.6 L754.4,388.8 L760.9,388.8 L760.9,385.2 L767.3,385.2 L767.3,389.9 L773.7,389.9 L773.7,395.2 L780.1,395.2 L780.1,402.6 L786.6,402.6 L786.6,422.8 L793.0,422.8 L793.0,449.4 L799.4,449.4 L799.4,453.7 L805.8,453.7 L805.8,485.6 L812.2,485.6 L812.2,488.0 L818.7,488.0 L818.7,487.0 L825.1,487.0 L825.1,486.0 L831.5,486.0 L831.5,485.0 L837.9,485.0 L837.9,484.0 L844.4,484.0 L844.4,482.4 L850.8,482.4 L850.8,466.0 L857.2,466.0 L857.2,465.4 L863.6,465.4 L863.6,451.3 L870.1,451.3 L870.1,436.4 L876.5,436.4 L876.5,428.5 L882.9,428.5 L882.9,432.0 L889.3,432.0 L889.3,441.7 L895.8,441.7 L895.8,445.2 L902.2,445.2 L902.2,444.3 L908.6,444.3 L908.6,439.0 L915.0,439.0 L915.0,433.7 L921.5,433.7 L921.5,433.7 L927.9,433.7 L927.9,441.7 L934.3,441.7 L934.3,451.3 L940.7,451.3 L940.7,457.5 L947.2,457.5 L947.2,462.8 L953.6,462.8 L953.6,468.0 L960.0,468.0 L960.0,473.3 L966.4,473.3 L966.4,475.1 L972.8,475.1 L972.8,476.8 L979.3,476.8 L979.3,478.6 L985.7,478.6 L985.7,479.5 L992.1,479.5 L992.1,478.6 L998.5,478.6 L998.5,476.0 L1005.0,476.0 L1005.0,471.9 L1011.4,471.9 L1011.4,471.9 L1016.7,471.9 L1016.7,508.3 Z"/></clipPath>
<clipPath id="Rge"><path d="M691.0,508.3 L691.0,510.0 L696.8,510.0 L696.8,510.0 L703.3,510.0 L703.3,510.0 L709.8,510.0 L709.8,510.0 L716.3,510.0 L716.3,510.0 L722.8,510.0 L722.8,510.0 L729.3,510.0 L729.3,510.0 L735.9,510.0 L735.9,510.0 L742.4,510.0 L742.4,510.0 L748.9,510.0 L748.9,510.0 L755.4,510.0 L755.4,510.0 L761.9,510.0 L761.9,510.0 L768.4,510.0 L768.4,510.3 L774.9,510.3 L774.9,511.3 L781.5,511.3 L781.5,517.0 L788.0,517.0 L788.0,523.1 L794.5,523.1 L794.5,529.8 L801.0,529.8 L801.0,537.0 L807.5,537.0 L807.5,545.0 L814.0,545.0 L814.0,545.2 L820.5,545.2 L820.5,550.3 L827.1,550.3 L827.1,556.0 L833.6,556.0 L833.6,562.1 L840.1,562.1 L840.1,562.1 L846.6,562.1 L846.6,555.5 L853.1,555.5 L853.1,544.0 L859.6,544.0 L859.6,534.0 L866.2,534.0 L866.2,528.1 L872.7,528.1 L872.7,525.2 L879.2,525.2 L879.2,523.0 L885.7,523.0 L885.7,523.5 L892.2,523.5 L892.2,524.2 L898.7,524.2 L898.7,525.8 L905.2,525.8 L905.2,528.3 L911.8,528.3 L911.8,530.8 L918.3,530.8 L918.3,533.3 L924.8,533.3 L924.8,530.0 L931.3,530.0 L931.3,525.0 L937.8,525.0 L937.8,523.3 L944.3,523.3 L944.3,523.3 L950.8,523.3 L950.8,523.3 L957.4,523.3 L957.4,523.3 L963.9,523.3 L963.9,523.3 L970.4,523.3 L970.4,525.0 L976.9,525.0 L976.9,523.3 L983.4,523.3 L983.4,524.2 L989.9,524.2 L989.9,520.8 L996.5,520.8 L996.5,519.2 L1003.0,519.2 L1003.0,515.8 L1009.5,515.8 L1009.5,513.3 L1016.5,513.3 L1016.5,508.3 Z"/></clipPath>
<path d="M691.0,508.3 L691.0,497.3 L696.6,497.3 L696.6,494.0 L703.0,494.0 L703.0,486.6 L709.5,486.6 L709.5,479.2 L715.9,479.2 L715.9,470.7 L722.3,470.7 L722.3,457.9 L728.7,457.9 L728.7,438.8 L735.2,438.8 L735.2,421.8 L741.6,421.8 L741.6,409.0 L748.0,409.0 L748.0,406.9 L754.4,406.9 L754.4,410.0 L760.9,410.0 L760.9,413.0 L767.3,413.0 L767.3,413.5 L773.7,413.5 L773.7,418.0 L780.1,418.0 L780.1,430.0 L786.6,430.0 L786.6,440.0 L793.0,440.0 L793.0,449.4 L799.4,449.4 L799.4,453.7 L805.8,453.7 L805.8,443.0 L812.2,443.0 L812.2,436.7 L818.7,436.7 L818.7,430.3 L825.1,430.3 L825.1,420.7 L831.5,420.7 L831.5,416.5 L837.9,416.5 L837.9,420.7 L844.4,420.7 L844.4,435.6 L850.8,435.6 L850.8,451.5 L857.2,451.5 L857.2,462.2 L863.6,462.2 L863.6,466.0 L870.1,466.0 L870.1,470.7 L876.5,470.7 L876.5,476.8 L882.9,476.8 L882.9,481.2 L889.3,481.2 L889.3,484.7 L895.8,484.7 L895.8,486.5 L902.2,486.5 L902.2,487.4 L908.6,487.4 L908.6,485.6 L915.0,485.6 L915.0,483.9 L921.5,483.9 L921.5,482.1 L927.9,482.1 L927.9,480.3 L934.3,480.3 L934.3,479.5 L940.7,479.5 L940.7,477.7 L947.2,477.7 L947.2,476.0 L953.6,476.0 L953.6,475.1 L960.0,475.1 L960.0,474.2 L966.4,474.2 L966.4,476.0 L972.8,476.0 L972.8,474.7 L979.3,474.7 L979.3,470.7 L985.7,470.7 L985.7,468.0 L992.1,468.0 L992.1,467.2 L998.5,467.2 L998.5,469.8 L1005.0,469.8 L1005.0,471.9 L1011.4,471.9 L1011.4,471.9 L1016.7,471.9 L1016.7,508.3 Z" fill="none" stroke="#666" stroke-width="1" clip-path="url(#Rgf)"/>
<path d="M691.0,508.3 L691.0,510.5 L696.8,510.5 L696.8,510.5 L703.3,510.5 L703.3,510.5 L709.8,510.5 L709.8,510.5 L716.3,510.5 L716.3,510.5 L722.8,510.5 L722.8,510.5 L729.3,510.5 L729.3,511.5 L735.9,511.5 L735.9,511.5 L742.4,511.5 L742.4,511.5 L748.9,511.5 L748.9,511.5 L755.4,511.5 L755.4,510.5 L761.9,510.5 L761.9,510.5 L768.4,510.5 L768.4,511.3 L774.9,511.3 L774.9,517.0 L781.5,517.0 L781.5,523.1 L788.0,523.1 L788.0,529.8 L794.5,529.8 L794.5,537.0 L801.0,537.0 L801.0,544.1 L807.5,544.1 L807.5,546.2 L814.0,546.2 L814.0,545.2 L820.5,545.2 L820.5,542.1 L827.1,542.1 L827.1,539.5 L833.6,539.5 L833.6,536.4 L840.1,536.4 L840.1,533.9 L846.6,533.9 L846.6,531.8 L853.1,531.8 L853.1,528.3 L859.6,528.3 L859.6,525.0 L866.2,525.0 L866.2,520.8 L872.7,520.8 L872.7,516.7 L879.2,516.7 L879.2,514.2 L885.7,514.2 L885.7,516.7 L892.2,516.7 L892.2,522.5 L898.7,522.5 L898.7,525.0 L905.2,525.0 L905.2,529.2 L911.8,529.2 L911.8,530.0 L918.3,530.0 L918.3,529.2 L924.8,529.2 L924.8,526.7 L931.3,526.7 L931.3,524.2 L937.8,524.2 L937.8,528.3 L944.3,528.3 L944.3,535.0 L950.8,535.0 L950.8,539.2 L957.4,539.2 L957.4,536.7 L963.9,536.7 L963.9,531.7 L970.4,531.7 L970.4,527.5 L976.9,527.5 L976.9,525.0 L983.4,525.0 L983.4,523.3 L989.9,523.3 L989.9,520.0 L996.5,520.0 L996.5,517.5 L1003.0,517.5 L1003.0,519.2 L1009.5,519.2 L1009.5,520.8 L1016.5,520.8 L1016.5,508.3 Z" fill="none" stroke="#666" stroke-width="1" clip-path="url(#Rge)"/>
<g clip-path="url(#Rlf)"><line x1="527.9" y1="508.3" x2="677.9" y2="358.3" stroke="#000" stroke-width="2.9"/><line x1="565.7" y1="508.3" x2="715.7" y2="358.3" stroke="#000" stroke-width="2.9"/><line x1="603.5" y1="508.3" x2="753.5" y2="358.3" stroke="#000" stroke-width="2.9"/><line x1="641.3" y1="508.3" x2="791.3" y2="358.3" stroke="#000" stroke-width="2.9"/><line x1="679.1" y1="508.3" x2="829.1" y2="358.3" stroke="#000" stroke-width="2.9"/><line x1="716.9" y1="508.3" x2="866.9" y2="358.3" stroke="#000" stroke-width="2.9"/><line x1="754.7" y1="508.3" x2="904.7" y2="358.3" stroke="#000" stroke-width="2.9"/><line x1="792.5" y1="508.3" x2="942.5" y2="358.3" stroke="#000" stroke-width="2.9"/><line x1="830.3" y1="508.3" x2="980.3" y2="358.3" stroke="#000" stroke-width="2.9"/><line x1="868.1" y1="508.3" x2="1018.1" y2="358.3" stroke="#000" stroke-width="2.9"/><line x1="905.9" y1="508.3" x2="1055.9" y2="358.3" stroke="#000" stroke-width="2.9"/><line x1="943.7" y1="508.3" x2="1093.7" y2="358.3" stroke="#000" stroke-width="2.9"/><line x1="981.5" y1="508.3" x2="1131.5" y2="358.3" stroke="#000" stroke-width="2.9"/></g>
<g clip-path="url(#Rle)"><line x1="529.4" y1="508.3" x2="679.4" y2="658.3" stroke="#000" stroke-width="2.9"/><line x1="559.1" y1="508.3" x2="709.1" y2="658.3" stroke="#000" stroke-width="2.9"/><line x1="588.8" y1="508.3" x2="738.8" y2="658.3" stroke="#000" stroke-width="2.9"/><line x1="618.5" y1="508.3" x2="768.5" y2="658.3" stroke="#000" stroke-width="2.9"/><line x1="648.2" y1="508.3" x2="798.2" y2="658.3" stroke="#000" stroke-width="2.9"/><line x1="677.9" y1="508.3" x2="827.9" y2="658.3" stroke="#000" stroke-width="2.9"/><line x1="707.6" y1="508.3" x2="857.6" y2="658.3" stroke="#000" stroke-width="2.9"/><line x1="737.3" y1="508.3" x2="887.3" y2="658.3" stroke="#000" stroke-width="2.9"/><line x1="767.0" y1="508.3" x2="917.0" y2="658.3" stroke="#000" stroke-width="2.9"/><line x1="796.7" y1="508.3" x2="946.7" y2="658.3" stroke="#000" stroke-width="2.9"/><line x1="826.4" y1="508.3" x2="976.4" y2="658.3" stroke="#000" stroke-width="2.9"/><line x1="856.1" y1="508.3" x2="1006.1" y2="658.3" stroke="#000" stroke-width="2.9"/><line x1="885.8" y1="508.3" x2="1035.8" y2="658.3" stroke="#000" stroke-width="2.9"/><line x1="915.5" y1="508.3" x2="1065.5" y2="658.3" stroke="#000" stroke-width="2.9"/><line x1="945.2" y1="508.3" x2="1095.2" y2="658.3" stroke="#000" stroke-width="2.9"/><line x1="974.9" y1="508.3" x2="1124.9" y2="658.3" stroke="#000" stroke-width="2.9"/><line x1="1004.6" y1="508.3" x2="1154.6" y2="658.3" stroke="#000" stroke-width="2.9"/></g>
<line x1="691" y1="508.3" x2="1016.7" y2="508.3" stroke="#666" stroke-width="1.4" />
<ellipse cx="833" cy="445.6" rx="41.5" ry="60" fill="none" stroke="#000" stroke-width="2"/>
<line x1="161.1" y1="400" x2="161.1" y2="618" stroke="#b0b0b0" stroke-width="1.2" />
<line x1="153.3" y1="400.5" x2="161.1" y2="400.5" stroke="#b0b0b0" stroke-width="1.2" />
<line x1="153.6" y1="617.6" x2="161.1" y2="617.6" stroke="#b0b0b0" stroke-width="1.2" />
<line x1="153.6" y1="509.1" x2="161.1" y2="509.1" stroke="#b0b0b0" stroke-width="1.2" />
<text x="148.9" y="404.8" font-size="11.5" text-anchor="end" font-weight="normal" font-style="normal" font-family='"Liberation Sans", sans-serif' fill="#000" stroke="#000" stroke-width="0.25" letter-spacing="0.6">40</text>
<text x="148.7" y="619.2" font-size="11.5" text-anchor="end" font-weight="normal" font-style="normal" font-family='"Liberation Sans", sans-serif' fill="#000" stroke="#000" stroke-width="0.25" letter-spacing="0.6">40</text>
<text x="149.2" y="513.8" font-size="12" text-anchor="end" font-weight="normal" font-style="normal" font-family='"Liberation Sans", sans-serif' fill="#000" stroke="#000" stroke-width="0.25" letter-spacing="0.6">0</text>
<line x1="160" y1="632.3" x2="491" y2="632.3" stroke="#b0b0b0" stroke-width="1.5" />
<line x1="162" y1="632.3" x2="162" y2="639.2" stroke="#b0b0b0" stroke-width="1.5" />
<text x="159.9" y="654.3" font-size="11" text-anchor="middle" font-weight="normal" font-style="normal" font-family='"Liberation Sans", sans-serif' fill="#000" stroke="#000" stroke-width="0.25" letter-spacing="0.6">-0.2</text>
<line x1="228" y1="632.3" x2="228" y2="639.2" stroke="#b0b0b0" stroke-width="1.5" />
<text x="225.9" y="654.3" font-size="11" text-anchor="middle" font-weight="normal" font-style="normal" font-family='"Liberation Sans", sans-serif' fill="#000" stroke="#000" stroke-width="0.25" letter-spacing="0.6">-0.1</text>
<line x1="294" y1="632.3" x2="294" y2="639.2" stroke="#b0b0b0" stroke-width="1.5" />
<text x="294.3" y="654.3" font-size="11" text-anchor="middle" font-weight="normal" font-style="normal" font-family='"Liberation Sans", sans-serif' fill="#000" stroke="#000" stroke-width="0.25" letter-spacing="0.6">0.0</text>
<line x1="360" y1="632.3" x2="360" y2="639.2" stroke="#b0b0b0" stroke-width="1.5" />
<text x="360.3" y="654.3" font-size="11" text-anchor="middle" font-weight="normal" font-style="normal" font-family='"Liberation Sans", sans-serif' fill="#000" stroke="#000" stroke-width="0.25" letter-spacing="0.6">0.1</text>
<line x1="425.5" y1="632.3" x2="425.5" y2="639.2" stroke="#b0b0b0" stroke-width="1.5" />
<text x="425.8" y="654.3" font-size="11" text-anchor="middle" font-weight="normal" font-style="normal" font-family='"Liberation Sans", sans-serif' fill="#000" stroke="#000" stroke-width="0.25" letter-spacing="0.6">0.2</text>
<line x1="491" y1="632.3" x2="491" y2="639.2" stroke="#b0b0b0" stroke-width="1.5" />
<text x="491.3" y="654.3" font-size="11" text-anchor="middle" font-weight="normal" font-style="normal" font-family='"Liberation Sans", sans-serif' fill="#000" stroke="#000" stroke-width="0.25" letter-spacing="0.6">0.3</text>
<text x="284" y="675" font-size="18" text-anchor="start" font-weight="normal" font-style="normal" font-family='"Liberation Serif", serif' fill="#000" >Time (secs)</text>
<text x="79.5" y="454.6" font-size="16.7" text-anchor="middle" font-weight="normal" font-style="italic" font-family='"Liberation Sans", sans-serif' fill="#000" >Flexors</text>
<text x="79.6" y="473.6" font-size="16.7" text-anchor="middle" font-weight="normal" font-style="italic" font-family='"Liberation Sans", sans-serif' fill="#000" >(Biceps)</text>
<text x="85" y="511.7" font-size="14.5" text-anchor="middle" font-weight="normal" font-style="normal" font-family='"Liberation Sans", sans-serif' fill="#000" >(% Maximum)</text>
<text x="81.4" y="570.1" font-size="16.7" text-anchor="middle" font-weight="normal" font-style="italic" font-family='"Liberation Sans", sans-serif' fill="#000" >Extensors</text>
<text x="81" y="589.1" font-size="16.7" text-anchor="middle" font-weight="normal" font-style="italic" font-family='"Liberation Sans", sans-serif' fill="#000" >(Anc)</text>
<line x1="691.2" y1="400.2" x2="691.2" y2="618.3" stroke="#b0b0b0" stroke-width="1.2" />
<line x1="683.8" y1="400.7" x2="691.2" y2="400.7" stroke="#b0b0b0" stroke-width="1.2" />
<line x1="683.2" y1="617.9" x2="691.2" y2="617.9" stroke="#b0b0b0" stroke-width="1.2" />
<line x1="684" y1="509" x2="691.2" y2="509" stroke="#b0b0b0" stroke-width="1.2" />
<text x="679.4" y="404.5" font-size="11.5" text-anchor="end" font-weight="normal" font-style="normal" font-family='"Liberation Sans", sans-serif' fill="#000" stroke="#000" stroke-width="0.25" letter-spacing="0.6">40</text>
<text x="678.5" y="619.4" font-size="11.5" text-anchor="end" font-weight="normal" font-style="normal" font-family='"Liberation Sans", sans-serif' fill="#000" stroke="#000" stroke-width="0.25" letter-spacing="0.6">40</text>
<text x="679" y="512.7" font-size="12" text-anchor="end" font-weight="normal" font-style="normal" font-family='"Liberation Sans", sans-serif' fill="#000" stroke="#000" stroke-width="0.25" letter-spacing="0.6">0</text>
<line x1="689.5" y1="631.4" x2="1021" y2="631.4" stroke="#b0b0b0" stroke-width="1.5" />
<line x1="691.2" y1="631.4" x2="691.2" y2="638" stroke="#b0b0b0" stroke-width="1.5" />
<text x="689.1" y="653.8" font-size="11" text-anchor="middle" font-weight="normal" font-style="normal" font-family='"Liberation Sans", sans-serif' fill="#000" stroke="#000" stroke-width="0.25" letter-spacing="0.6">-0.2</text>
<line x1="757.1600000000001" y1="631.4" x2="757.1600000000001" y2="638" stroke="#b0b0b0" stroke-width="1.5" />
<text x="755.0600000000001" y="653.8" font-size="11" text-anchor="middle" font-weight="normal" font-style="normal" font-family='"Liberation Sans", sans-serif' fill="#000" stroke="#000" stroke-width="0.25" letter-spacing="0.6">-0.1</text>
<line x1="823.12" y1="631.4" x2="823.12" y2="638" stroke="#b0b0b0" stroke-width="1.5" />
<text x="823.42" y="653.8" font-size="11" text-anchor="middle" font-weight="normal" font-style="normal" font-family='"Liberation Sans", sans-serif' fill="#000" stroke="#000" stroke-width="0.25" letter-spacing="0.6">0.0</text>
<line x1="889.08" y1="631.4" x2="889.08" y2="638" stroke="#b0b0b0" stroke-width="1.5" />
<text x="889.38" y="653.8" font-size="11" text-anchor="middle" font-weight="normal" font-style="normal" font-family='"Liberation Sans", sans-serif' fill="#000" stroke="#000" stroke-width="0.25" letter-spacing="0.6">0.1</text>
<line x1="955.04" y1="631.4" x2="955.04" y2="638" stroke="#b0b0b0" stroke-width="1.5" />
<text x="955.3399999999999" y="653.8" font-size="11" text-anchor="middle" font-weight="normal" font-style="normal" font-family='"Liberation Sans", sans-serif' fill="#000" stroke="#000" stroke-width="0.25" letter-spacing="0.6">0.2</text>
<line x1="1021.0" y1="631.4" x2="1021.0" y2="638" stroke="#b0b0b0" stroke-width="1.5" />
<text x="1021.3" y="653.8" font-size="11" text-anchor="middle" font-weight="normal" font-style="normal" font-family='"Liberation Sans", sans-serif' fill="#000" stroke="#000" stroke-width="0.25" letter-spacing="0.6">0.3</text>
<text x="810.6" y="675.6" font-size="18" text-anchor="start" font-weight="normal" font-style="normal" font-family='"Liberation Serif", serif' fill="#000" >Time (secs)</text>
<text x="614.9" y="454.4" font-size="16.7" text-anchor="middle" font-weight="normal" font-style="italic" font-family='"Liberation Sans", sans-serif' fill="#000" >Flexors</text>
<text x="614.4" y="472.8" font-size="16.7" text-anchor="middle" font-weight="normal" font-style="italic" font-family='"Liberation Sans", sans-serif' fill="#000" >(Biceps)</text>
<text x="618.3" y="511.4" font-size="14.5" text-anchor="middle" font-weight="normal" font-style="normal" font-family='"Liberation Sans", sans-serif' fill="#000" >(% Maximum)</text>
<text x="612.9" y="569" font-size="16.7" text-anchor="middle" font-weight="normal" font-style="italic" font-family='"Liberation Sans", sans-serif' fill="#000" >Extensors</text>
<text x="612.8" y="588.6" font-size="16.7" text-anchor="middle" font-weight="normal" font-style="italic" font-family='"Liberation Sans", sans-serif' fill="#000" >(Anc)</text></svg>
</body></html>
